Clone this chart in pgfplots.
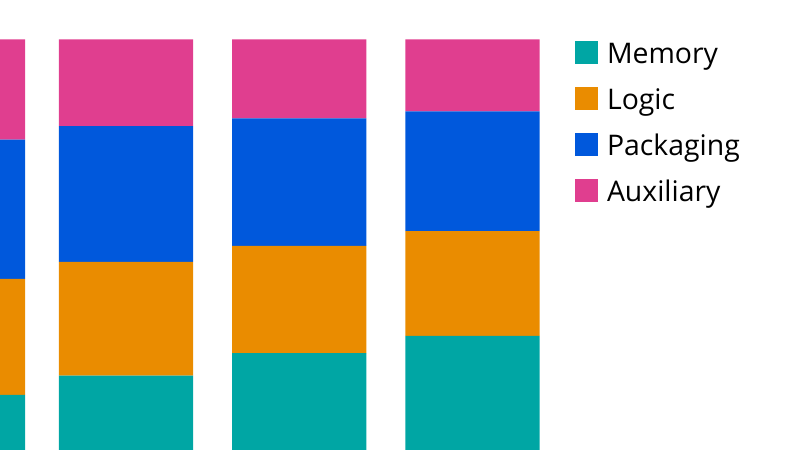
\documentclass[border=0pt]{standalone}
\usepackage{fontspec}
\setmainfont{Open Sans}
\usepackage{pgfplots}
\pgfplotsset{compat=1.18}
\definecolor{cMem}{RGB}{0,166,164}
\definecolor{cLog}{RGB}{234,140,0}
\definecolor{cPack}{RGB}{0,88,220}
\definecolor{cAux}{RGB}{224,62,143}
\begin{document}
\begin{tikzpicture}
\useasboundingbox (0,0) rectangle (800bp,450bp);
\begin{axis}[
  at={(0,0)}, anchor=south west,
  scale only axis, width=560bp, height=410.5bp,
  hide axis,
  ybar stacked, bar width=0.775,
  xmin=0.2727, xmax=3.505, ymin=0, ymax=100,
  legend image code/.code={\fill[#1] (0bp,0bp) rectangle (23bp,23bp);},
  legend style={at={(1.02679,0.99708)}, anchor=north west, draw=none, fill=none,
    inner sep=0pt, outer sep=0pt,
    font=\fontsize{28.5}{28.5}\selectfont,
    cells={anchor=base west},
    nodes={inner sep=0pt, text height=23bp, text depth=6bp},
    row sep=17bp,
    /tikz/every odd column/.append style={column sep=9bp}},
]
\addplot[draw=none, fill=cMem] coordinates {(0.03,13.4) (1,18.1) (2,23.6) (3,27.8)};
\addplot[draw=none, fill=cLog] coordinates {(0.03,28.3) (1,27.7) (2,26.1) (3,25.5)};
\addplot[draw=none, fill=cPack] coordinates {(0.03,33.9) (1,33.1) (2,31.1) (3,29.2)};
\addplot[draw=none, fill=cAux] coordinates {(0.03,24.4) (1,21.1) (2,19.2) (3,17.5)};
\legend{Memory, Logic, Packaging, Auxiliary}
\end{axis}
\end{tikzpicture}
\end{document}
